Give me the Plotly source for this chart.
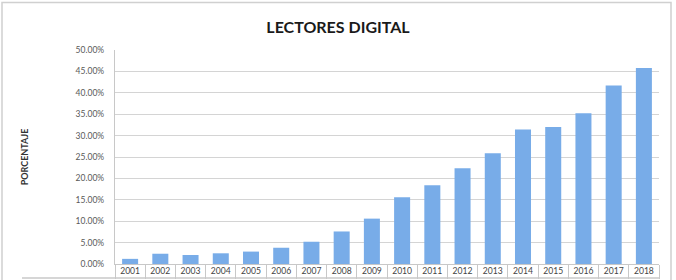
import plotly.graph_objects as go

years = ["2001", "2002", "2003", "2004", "2005", "2006", "2007", "2008", "2009",
         "2010", "2011", "2012", "2013", "2014", "2015", "2016", "2017", "2018"]
values = [1.2, 2.4, 2.1, 2.5, 2.9, 3.8, 5.2, 7.6, 10.6,
          15.6, 18.4, 22.4, 25.9, 31.4, 32.0, 35.2, 41.7, 45.8]
y_ticks = [0, 5, 10, 15, 20, 25, 30, 35, 40, 45, 50]
y_tick_labels = [f"{v:.2f}%" for v in y_ticks]

fig = go.Figure()
fig.add_trace(go.Bar(
    x=years, y=values,
    marker=dict(color="#78ace8", line=dict(width=0)),
    width=0.53,
))

fig.update_layout(
    width=676, height=280,
    margin=dict(l=115, r=17, t=50, b=16, autoexpand=False),
    paper_bgcolor="white", plot_bgcolor="white",
    showlegend=False,
    title=dict(text="LECTORES DIGITAL", x=0.5, xanchor="center", xref="container",
               y=1 - 27 / 280, yanchor="middle", yref="container",
               font=dict(family="Lato", size=16, color="#1a1a1a", weight="bold")),
    font=dict(family="Lato", color="#595959"),
)

fig.update_yaxes(
    range=[0, 50], tickvals=y_ticks, ticktext=y_tick_labels,
    tickfont=dict(size=8.5, color="#595959"),
    showgrid=True, gridcolor="#d4d4d4", gridwidth=1.3,
    showline=True, linecolor="#c8c8c8", linewidth=1.3,
    ticks="", zeroline=False, ticklabelstandoff=8,
    title=dict(text="PORCENTAJE", font=dict(size=9, color="#333333", weight="bold"), standoff=45),
    automargin=False,
    fixedrange=True,
)
fig.update_xaxes(
    type="category",
    tickfont=dict(size=8.6, color="#444444"),
    showline=True, linecolor="#c8c8c8", linewidth=1.3,
    ticks="outside", tickson="boundaries", ticklen=14, tickcolor="#c8c8c8", tickwidth=1.2,
    ticklabelstandoff=-1,
    showgrid=False,
    automargin=False,
    fixedrange=True,
)

# outer chart border and bottom line of the label table
fig.add_shape(type="rect", xref="paper", yref="paper",
              x0=-113 / 544, x1=(671 - 115) / 544, y0=-0.2, y1=(264 - 2.5) / 214,
              line=dict(color="#d0d0d0", width=1.5), fillcolor="rgba(0,0,0,0)", layer="below")
fig.add_shape(type="line", xref="paper", yref="paper",
              x0=(22 - 115) / 544, x1=1.0, y0=-(278 - 264) / 214, y1=-(278 - 264) / 214,
              line=dict(color="#c8c8c8", width=1.3))

fig.write_html("out.html")
